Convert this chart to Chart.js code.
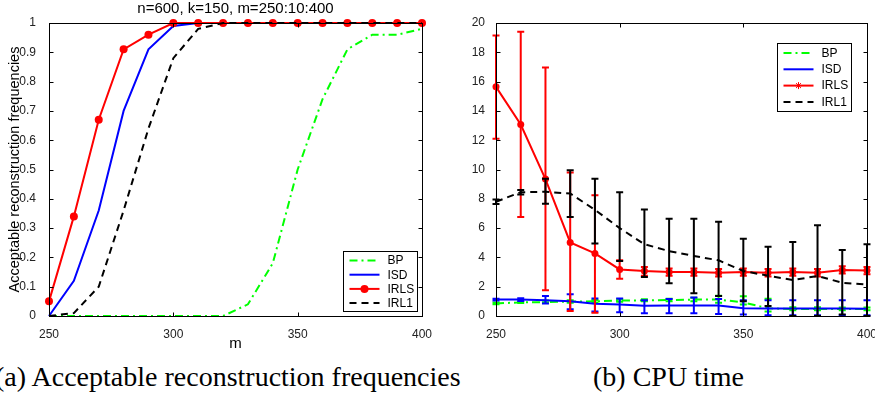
<!DOCTYPE html>
<html>
<head>
<meta charset="utf-8">
<title>Acceptable reconstruction frequencies / CPU time</title>
<script src="https://cdn.jsdelivr.net/npm/chart.js@4.4.1/dist/chart.umd.min.js"></script>
<style>
  html, body { margin: 0; padding: 0; background: #fff; }
  body { width: 875px; height: 400px; overflow: hidden; position: relative; }
  canvas { position: absolute; top: 0; }
  #freqChart { left: 0; }
  #cpuChart { left: 440px; }
  .caption {
    position: absolute; top: 363px; line-height: 28px; white-space: nowrap;
    font-family: "Liberation Serif", "Times New Roman", serif; font-size: 28px; color: #000;
  }
  #capA { left: -5px; }
  #capB { left: 593px; }
</style>
</head>
<body>
<canvas id="freqChart" width="440" height="355"></canvas>
<canvas id="cpuChart" width="440" height="355"></canvas>
<div class="caption" id="capA">(a) Acceptable reconstruction frequencies</div>
<div class="caption" id="capB">(b) CPU time</div>

<script>
// ── Data ──
const mValues = [250, 260, 270, 280, 290, 300, 310, 320, 330, 340, 350, 360, 370, 380, 390, 400];
const legendOrder = ['BP', 'ISD', 'IRLS', 'IRL1'];

// (a) acceptable reconstruction frequencies
const freqBP   = [0, 0, 0, 0, 0, 0, 0, 0, 0.04, 0.18, 0.50, 0.74, 0.91, 0.96, 0.96, 0.98];
const freqISD  = [0, 0.12, 0.36, 0.70, 0.91, 0.99, 1, 1, 1, 1, 1, 1, 1, 1, 1, 1];
const freqIRLS = [0.05, 0.34, 0.67, 0.91, 0.96, 1, 1, 1, 1, 1, 1, 1, 1, 1, 1, 1];
const freqIRL1 = [0, 0.01, 0.10, 0.36, 0.64, 0.88, 0.98, 1, 1, 1, 1, 1, 1, 1, 1, 1];

// (b) CPU time, mean with lower / upper error bar ends
const cpuBP      = [0.86, 0.93, 0.95, 0.98, 1.00, 1.05, 1.07, 1.09, 1.12, 1.12, 0.93, 0.53, 0.47, 0.47, 0.47, 0.47];
const cpuBPLo    = [0.80, 0.88, 0.90, 0.90, 0.92, 0.98, 1.00, 1.00, 1.00, 0.90, 0.78, 0.30, 0.40, 0.40, 0.40, 0.40];
const cpuBPHi    = [0.92, 0.98, 1.05, 1.08, 1.10, 1.15, 1.15, 1.18, 1.25, 1.38, 1.34, 1.17, 0.60, 0.60, 0.58, 0.58];
const cpuISD     = [1.12, 1.12, 1.07, 1.00, 0.84, 0.79, 0.70, 0.72, 0.72, 0.72, 0.53, 0.51, 0.51, 0.51, 0.51, 0.50];
const cpuISDLo   = [1.05, 1.02, 0.86, 0.46, 0.30, 0.26, 0.19, 0.19, 0.19, 0.14, 0.10, 0.05, 0.05, 0.05, 0.05, 0.05];
const cpuISDHi   = [1.18, 1.22, 1.37, 1.48, 1.20, 1.20, 1.07, 1.16, 1.26, 1.16, 1.07, 1.07, 1.07, 1.07, 1.07, 1.07];
const cpuIRLS    = [15.64, 13.07, 9.35, 5.02, 4.27, 3.18, 3.07, 3.00, 3.00, 2.95, 3.00, 2.95, 3.00, 2.95, 3.14, 3.10];
const cpuIRLSLo  = [12.10, 6.75, 1.75, 0.34, 0.23, 2.55, 2.75, 2.75, 2.75, 2.70, 2.75, 2.70, 2.75, 2.70, 2.90, 2.85];
const cpuIRLSHi  = [19.15, 19.40, 16.97, 9.80, 8.25, 3.80, 3.35, 3.25, 3.25, 3.20, 3.25, 3.20, 3.25, 3.20, 3.40, 3.35];
const cpuIRL1    = [7.80, 8.45, 8.48, 8.36, 7.25, 6.00, 4.90, 4.43, 4.10, 3.80, 3.07, 2.75, 2.45, 2.73, 2.27, 2.15];
const cpuIRL1Lo  = [7.65, 8.30, 7.66, 6.75, 4.95, 3.75, 2.66, 2.23, 1.55, 1.36, 1.00, 0.68, 0.00, 0.00, 0.10, 0.00];
const cpuIRL1Hi  = [7.95, 8.60, 9.37, 9.95, 9.37, 8.45, 7.27, 6.64, 6.64, 6.44, 5.27, 4.73, 5.05, 6.20, 4.50, 4.90];

const freqTitle = 'n=600, k=150, m=250:10:400';
const freqYTitle = 'Acceptable reconstruction frequencies';
const xTitle = 'm';

// ── Look ──
const SANS = '"Liberation Sans", Arial, Helvetica, sans-serif';
const TICK_FONT = { family: SANS, size: 12 };
const TICK_COLOR = '#222';
const styles = {
  BP:   { color: '#00ff00', dash: [8, 4, 2, 4], order: 4 },
  ISD:  { color: '#0000ff', dash: [],           order: 3 },
  IRLS: { color: '#ff0000', dash: [],           order: 2 },
  IRL1: { color: '#000000', dash: [7, 5],       order: 1 }
};
const pts = (ys) => mValues.map((m, i) => ({ x: m, y: ys[i] }));

function series(label, ys, extra) {
  const s = styles[label];
  return Object.assign({
    label,
    data: pts(ys),
    borderColor: s.color,
    backgroundColor: s.color,
    borderDash: s.dash,
    borderWidth: 2,
    pointRadius: 0,
    tension: 0,
    clip: false,
    order: s.order
  }, extra || {});
}

// ── MATLAB style frame with inward ticks ──
const frame = {
  id: 'frame',
  afterDraw(chart) {
    const { ctx, chartArea: a, scales: { x, y } } = chart;
    const L = Math.round(a.left) + 0.5, R = Math.round(a.right) + 0.5;
    const T = Math.round(a.top) + 0.5, B = Math.round(a.bottom) + 0.5;
    ctx.save();
    ctx.strokeStyle = '#000';
    ctx.lineWidth = 1;
    ctx.setLineDash([]);
    ctx.strokeRect(L, T, R - L, B - T);
    ctx.beginPath();
    x.ticks.forEach(t => {
      const px = Math.round(x.getPixelForValue(t.value)) + 0.5;
      ctx.moveTo(px, B); ctx.lineTo(px, B - 4);
      ctx.moveTo(px, T); ctx.lineTo(px, T + 4);
    });
    y.ticks.forEach(t => {
      const py = Math.round(y.getPixelForValue(t.value)) + 0.5;
      ctx.moveTo(L, py); ctx.lineTo(L + 4, py);
      ctx.moveTo(R, py); ctx.lineTo(R - 4, py);
    });
    ctx.stroke();
    ctx.restore();
  }
};

// ── Vertical error bars with caps ──
const errorBars = {
  id: 'errorBars',
  afterDatasetDraw(chart, args) {
    const ds = chart.data.datasets[args.index];
    if (!ds.errLow) return;
    const { ctx, scales: { x, y } } = chart;
    ctx.save();
    ctx.strokeStyle = ds.borderColor;
    ctx.lineWidth = 2;
    ctx.setLineDash([]);
    ctx.beginPath();
    ds.data.forEach((p, i) => {
      const px = x.getPixelForValue(p.x);
      const lo = y.getPixelForValue(ds.errLow[i]);
      const hi = y.getPixelForValue(ds.errHigh[i]);
      ctx.moveTo(px, lo); ctx.lineTo(px, hi);
      ctx.moveTo(px - 3.5, lo); ctx.lineTo(px + 3.5, lo);
      ctx.moveTo(px - 3.5, hi); ctx.lineTo(px + 3.5, hi);
    });
    ctx.stroke();
    ctx.restore();
  }
};

// ── Boxed legend inside the axes ──
const boxLegend = {
  id: 'boxLegend',
  afterDraw(chart, args, o) {
    const { ctx, chartArea: a } = chart;
    const left = Math.round(a.right - o.right - o.width) + 0.5;
    const top = Math.round(o.top != null ? a.top + o.top : a.bottom - o.bottom - o.height) + 0.5;
    ctx.save();
    ctx.fillStyle = '#fff';
    ctx.fillRect(left, top, o.width, o.height);
    ctx.strokeStyle = '#000';
    ctx.lineWidth = 1;
    ctx.strokeRect(left, top, o.width, o.height);
    ctx.font = '12px ' + SANS;
    ctx.textBaseline = 'middle';
    legendOrder.forEach((label, i) => {
      const s = styles[label];
      const yy = top + o.firstRow + i * o.rowGap;
      ctx.strokeStyle = s.color;
      ctx.lineWidth = 2;
      ctx.setLineDash(s.dash);
      ctx.beginPath(); ctx.moveTo(left + 6, yy); ctx.lineTo(left + 36, yy); ctx.stroke();
      ctx.setLineDash([]);
      if (label === 'IRLS') {
        const cx = left + 21;
        if (o.marker === 'circle') {
          ctx.fillStyle = s.color;
          ctx.beginPath(); ctx.arc(cx, yy, 4, 0, Math.PI * 2); ctx.fill();
        } else {
          ctx.lineWidth = 1;
          ctx.beginPath();
          for (let k = 0; k < 4; k++) {
            const ang = k * Math.PI / 4;
            ctx.moveTo(cx - 3.5 * Math.cos(ang), yy - 3.5 * Math.sin(ang));
            ctx.lineTo(cx + 3.5 * Math.cos(ang), yy + 3.5 * Math.sin(ang));
          }
          ctx.stroke();
        }
      }
      ctx.fillStyle = '#000';
      ctx.fillText(label, left + 44, yy + 0.5);
    });
    ctx.restore();
  }
};

const xScale = (showTitle) => ({
  type: 'linear',
  min: 250,
  max: 400,
  afterFit: s => { s.height = 39; },
  grid: { display: false },
  border: { display: false },
  ticks: { stepSize: 50, padding: 3, maxRotation: 0, font: TICK_FONT, color: TICK_COLOR },
  title: { display: showTitle, text: xTitle, color: '#000', font: { family: SANS, size: 15 }, padding: { top: 0, bottom: 2 } }
});

// ── (a) frequencies ──
new Chart(document.getElementById('freqChart'), {
  type: 'line',
  data: {
    datasets: [
      series('BP', freqBP),
      series('ISD', freqISD),
      series('IRLS', freqIRLS, { pointRadius: 4, pointStyle: 'circle', pointBorderWidth: 0 }),
      series('IRL1', freqIRL1)
    ]
  },
  options: {
    responsive: false,
    animation: false,
    events: [],
    layout: { padding: { left: 0, right: 18, top: 0, bottom: 0 } },
    plugins: {
      legend: { display: false },
      tooltip: { enabled: false },
      title: {
        display: true, text: freqTitle, fullSize: false, color: '#000',
        font: { family: SANS, size: 15, weight: 'normal' }, padding: { top: 0, bottom: 5 }
      },
      boxLegend: { width: 74, height: 60, right: 5, bottom: 5, firstRow: 9, rowGap: 14.2, marker: 'circle' }
    },
    scales: {
      x: xScale(true),
      y: {
        min: 0, max: 1,
        afterFit: s => { s.width = 49; },
        grid: { display: false },
        border: { display: false },
        ticks: { stepSize: 0.1, padding: 5, font: TICK_FONT, color: TICK_COLOR, callback: v => String(Math.round(v * 10) / 10) },
        title: { display: true, text: freqYTitle, color: '#000', font: { family: SANS, size: 14.5 }, padding: { top: 6, bottom: 0 } }
      }
    }
  },
  plugins: [frame, boxLegend]
});

// ── (b) CPU time ──
new Chart(document.getElementById('cpuChart'), {
  type: 'line',
  data: {
    datasets: [
      series('BP', cpuBP, { errLow: cpuBPLo, errHigh: cpuBPHi }),
      series('ISD', cpuISD, { errLow: cpuISDLo, errHigh: cpuISDHi }),
      series('IRLS', cpuIRLS, { errLow: cpuIRLSLo, errHigh: cpuIRLSHi, pointRadius: 3.5, pointStyle: 'circle', pointBorderWidth: 0 }),
      series('IRL1', cpuIRL1, { errLow: cpuIRL1Lo, errHigh: cpuIRL1Hi })
    ]
  },
  options: {
    responsive: false,
    animation: false,
    events: [],
    layout: { padding: { left: 0, right: 11, top: 23, bottom: 0 } },
    plugins: {
      legend: { display: false },
      tooltip: { enabled: false },
      boxLegend: { width: 74, height: 68, right: 16, top: 20, firstRow: 9.5, rowGap: 16.3, marker: 'star' }
    },
    scales: {
      x: xScale(false),
      y: {
        min: 0, max: 20,
        afterFit: s => { s.width = 56; },
        grid: { display: false },
        border: { display: false },
        ticks: { stepSize: 2, padding: 3, font: TICK_FONT, color: TICK_COLOR }
      }
    }
  },
  plugins: [errorBars, frame, boxLegend]
});
</script>
</body>
</html>
